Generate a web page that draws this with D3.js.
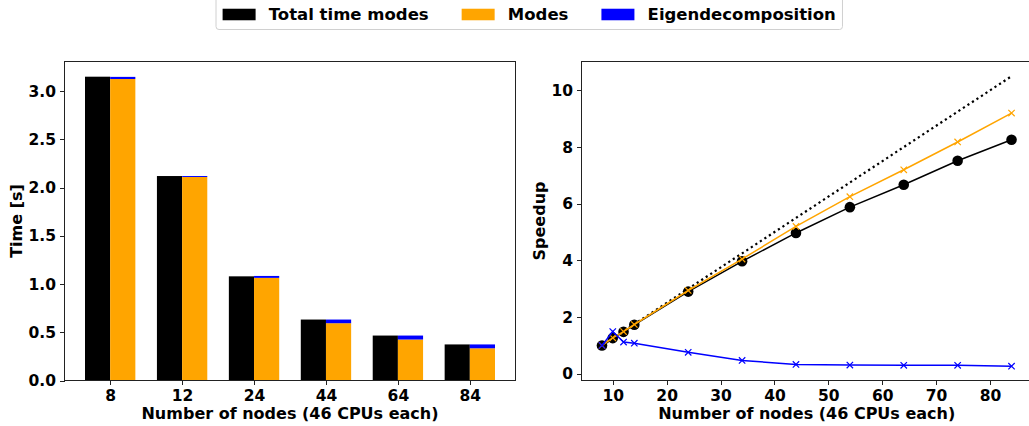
<!DOCTYPE html>
<html>
<head>
<meta charset="utf-8">
<script src="https://cdn.jsdelivr.net/npm/d3@7"></script>
<style>
  html, body { margin: 0; padding: 0; background: #fff; }
  svg { display: block; font-family: "DejaVu Sans", sans-serif; font-weight: bold; }
</style>
</head>
<body>
<svg id="chart" width="1029" height="426"></svg>
<script>
// ---- Timing per node count (bar chart) ----
const nodeLabels = ["8", "12", "24", "44", "64", "84"];
const totalTime  = [3.150, 2.120, 1.080, 0.632, 0.466, 0.374];
const modesTime  = [3.126, 2.110, 1.064, 0.594, 0.425, 0.334];
const eigenTime  = [0.022, 0.010, 0.020, 0.038, 0.041, 0.040];
const timeTicks  = [0.0, 0.5, 1.0, 1.5, 2.0, 2.5, 3.0];

// ---- Speedup versus node count (line chart) ----
const speedNodes   = [8, 10, 12, 14, 24, 34, 44, 54, 64, 74, 84];
const speedTotal   = [1.00, 1.26, 1.48, 1.73, 2.90, 3.97, 4.97, 5.88, 6.67, 7.52, 8.26];
const speedModes   = [1.00, 1.27, 1.49, 1.74, 2.94, 4.05, 5.20, 6.25, 7.20, 8.18, 9.20];
const speedEigen   = [1.00, 1.49, 1.12, 1.08, 0.76, 0.47, 0.33, 0.31, 0.30, 0.30, 0.27];
const speedIdeal   = [1.00, 1.25, 1.50, 1.75, 3.00, 4.25, 5.50, 6.75, 8.00, 9.25, 10.50];
const speedXTicks  = [10, 20, 30, 40, 50, 60, 70, 80];
const speedYTicks  = [0, 2, 4, 6, 8, 10];

const legendItems = [
  { label: "Total time modes", color: "#000000" },
  { label: "Modes", color: "#ffa500" },
  { label: "Eigendecomposition", color: "#0000ff" }
];

const svg = d3.select("#chart");
const tickFont = 15.5, labelFont = 16, legendFont = 16.5;

function frame(g, x0, x1, y0, y1) {
  g.append("rect")
    .attr("x", x0).attr("y", y0)
    .attr("width", x1 - x0).attr("height", y1 - y0)
    .attr("fill", "none").attr("stroke", "#222").attr("stroke-width", 1)
    .attr("shape-rendering", "crispEdges");
}

function styleAxis(sel) {
  sel.select(".domain").remove();
  sel.selectAll(".tick line").attr("stroke", "#222").attr("stroke-width", 1)
     .attr("shape-rendering", "crispEdges");
  sel.selectAll(".tick text").attr("fill", "#000")
     .style("font-size", tickFont + "px").style("font-weight", "bold")
     .style("font-family", "DejaVu Sans");
}

// ================= Left panel: time bars =================
const L = { left: 64.5, right: 515.5, top: 61.5, bottom: 380.5 };
const lx = d3.scaleLinear().domain([-0.635, 5.635]).range([L.left, L.right]);
const ly = d3.scaleLinear().domain([0, 3.3075]).range([L.bottom, L.top]);
const barW = 0.35;

const gl = svg.append("g");
const idx = d3.range(nodeLabels.length);

gl.selectAll("rect.total").data(idx).join("rect")
  .attr("x", i => lx(i - barW))
  .attr("width", i => lx(i) - lx(i - barW))
  .attr("y", i => ly(totalTime[i]))
  .attr("height", i => ly(0) - ly(totalTime[i]))
  .attr("fill", legendItems[0].color);

gl.selectAll("rect.modes").data(idx).join("rect")
  .attr("x", i => lx(i))
  .attr("width", i => lx(i + barW) - lx(i))
  .attr("y", i => ly(modesTime[i]))
  .attr("height", i => ly(0) - ly(modesTime[i]))
  .attr("fill", legendItems[1].color);

gl.selectAll("rect.eigen").data(idx).join("rect")
  .attr("x", i => lx(i))
  .attr("width", i => lx(i + barW) - lx(i))
  .attr("y", i => ly(modesTime[i] + eigenTime[i]))
  .attr("height", i => ly(modesTime[i]) - ly(modesTime[i] + eigenTime[i]))
  .attr("fill", legendItems[2].color);

gl.append("g").attr("transform", `translate(0,${L.bottom})`)
  .call(d3.axisBottom(lx).tickValues(idx).tickFormat(i => nodeLabels[i]).tickSizeOuter(0).tickSize(4.5).tickPadding(5))
  .call(styleAxis);

gl.append("g").attr("transform", `translate(${L.left},0)`)
  .call(d3.axisLeft(ly).tickValues(timeTicks).tickFormat(d3.format(".1f")).tickSizeOuter(0).tickSize(4.5).tickPadding(4))
  .call(styleAxis);

frame(gl, L.left, L.right, L.top, L.bottom);

gl.append("text")
  .attr("transform", `translate(22,${(L.top + L.bottom) / 2}) rotate(-90)`)
  .attr("text-anchor", "middle")
  .style("font-size", labelFont + "px")
  .text("Time [s]");

gl.append("text")
  .attr("x", (L.left + L.right) / 2).attr("y", 418.5)
  .attr("text-anchor", "middle")
  .style("font-size", labelFont + "px")
  .text("Number of nodes (46 CPUs each)");

// ================= Right panel: speedup =================
const R = { left: 581.5, right: 1032, top: 61.5, bottom: 380.5 };
const rx = d3.scaleLinear().domain([4.2, 87.8]).range([R.left, R.right]);
const ry = d3.scaleLinear().domain([-0.236, 11.02]).range([R.bottom, R.top]);

const gr = svg.append("g");

gr.append("g").attr("transform", `translate(0,${R.bottom})`)
  .call(d3.axisBottom(rx).tickValues(speedXTicks).tickSizeOuter(0).tickSize(4.5).tickPadding(5))
  .call(styleAxis);

gr.append("g").attr("transform", `translate(${R.left},0)`)
  .call(d3.axisLeft(ry).tickValues(speedYTicks).tickSizeOuter(0).tickSize(4.5).tickPadding(4))
  .call(styleAxis);

const line = ys => d3.line().x((d, i) => rx(speedNodes[i])).y(d => ry(d))(ys);

// ideal linear speedup
gr.append("path").attr("d", line(speedIdeal))
  .attr("fill", "none").attr("stroke", "#000").attr("stroke-width", 2.2)
  .attr("stroke-dasharray", "2.2,3.2");

// total time modes
gr.append("path").attr("d", line(speedTotal))
  .attr("fill", "none").attr("stroke", "#000").attr("stroke-width", 1.5);
gr.selectAll("circle.total").data(speedTotal).join("circle")
  .attr("cx", (d, i) => rx(speedNodes[i])).attr("cy", d => ry(d))
  .attr("r", 5.3).attr("fill", "#000");

function crosses(vals, color, half) {
  gr.selectAll(null).data(vals).join("path")
    .attr("transform", (d, i) => `translate(${rx(speedNodes[i])},${ry(d)})`)
    .attr("d", `M${-half},${-half}L${half},${half}M${-half},${half}L${half},${-half}`)
    .attr("stroke", color).attr("stroke-width", 1.2).attr("fill", "none");
}

// modes
gr.append("path").attr("d", line(speedModes))
  .attr("fill", "none").attr("stroke", "#ffa500").attr("stroke-width", 1.5);
crosses(speedModes, "#ffa500", 3.2);

// eigendecomposition
gr.append("path").attr("d", line(speedEigen))
  .attr("fill", "none").attr("stroke", "#0000ff").attr("stroke-width", 1.5);
crosses(speedEigen, "#0000ff", 3.2);

frame(gr, R.left, R.right, R.top, R.bottom);

gr.append("text")
  .attr("transform", `translate(545,${(R.top + R.bottom) / 2}) rotate(-90)`)
  .attr("text-anchor", "middle")
  .style("font-size", labelFont + "px")
  .text("Speedup");

gr.append("text")
  .attr("x", (R.left + R.right) / 2).attr("y", 418.5)
  .attr("text-anchor", "middle")
  .style("font-size", labelFont + "px")
  .text("Number of nodes (46 CPUs each)");

// ================= Legend =================
const lg = svg.append("g");
const handleW = 2.0 * legendFont, handleH = 0.7 * legendFont;
const textPad = 0.8 * legendFont, colGap = 2.0 * legendFont, pad = 0.4 * legendFont;
const legendLeft = 216, legendMid = 14.5;

const frameRect = lg.append("rect");
let cx = legendLeft + pad;
legendItems.forEach(item => {
  lg.append("rect")
    .attr("x", cx).attr("y", legendMid - handleH / 2)
    .attr("width", handleW).attr("height", handleH)
    .attr("fill", item.color);
  cx += handleW + textPad;
  const t = lg.append("text")
    .attr("x", cx).attr("y", legendMid).attr("dy", "0.36em")
    .style("font-size", legendFont + "px")
    .text(item.label);
  cx += t.node().getComputedTextLength() + colGap;
});
cx = cx - colGap + pad;
frameRect
  .attr("x", legendLeft).attr("y", -6)
  .attr("width", cx - legendLeft).attr("height", 35.5)
  .attr("rx", 3).attr("fill", "#fff").attr("fill-opacity", 0.8)
  .attr("stroke", "#d0d0d0").attr("stroke-width", 1);
</script>
</body>
</html>
